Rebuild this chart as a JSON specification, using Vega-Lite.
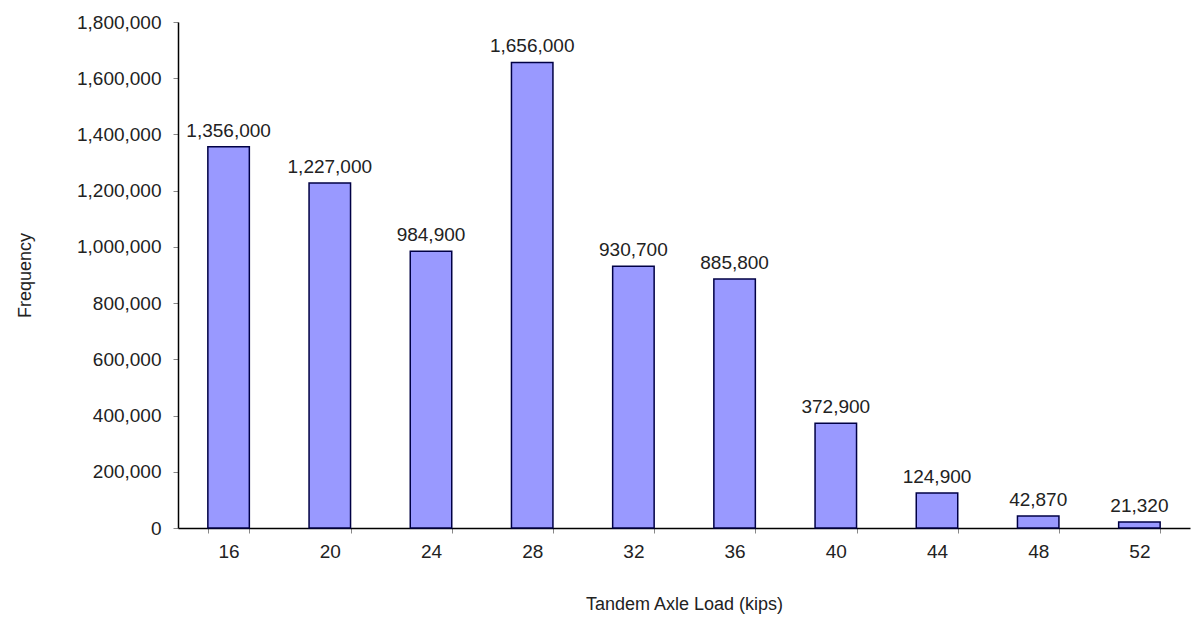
{
  "$schema": "https://vega.github.io/schema/vega-lite/v6.json",
  "width": 1012,
  "height": 506,
  "autosize": {"type": "none"},
  "padding": {"left": 178, "top": 22, "right": 5, "bottom": 93},
  "background": "white",
  "config": {"view": {"stroke": null}, "font": "Liberation Sans"},
  "data": {"values": [
    {"load": "16", "freq": 1356000},
    {"load": "20", "freq": 1227000},
    {"load": "24", "freq": 984900},
    {"load": "28", "freq": 1656000},
    {"load": "32", "freq": 930700},
    {"load": "36", "freq": 885800},
    {"load": "40", "freq": 372900},
    {"load": "44", "freq": 124900},
    {"load": "48", "freq": 42870},
    {"load": "52", "freq": 21320}
  ]},
  "encoding": {
    "x": {"field": "load", "type": "ordinal", "sort": null,
      "scale": {"paddingInner": 0.59, "paddingOuter": 0.295},
      "axis": {"title": "Tandem Axle Load (kips)", "labelAngle": 0, "labelFontSize": 19, "labelColor": "#222", "labelPadding": 9,
        "tickBand": "extent", "tickColor": "#888", "tickSize": 5, "domainColor": "#000", "domainWidth": 1.5,
        "titleFontSize": 18, "titleFontWeight": "normal", "titleColor": "#222", "titlePadding": 34}},
    "y": {"field": "freq", "type": "quantitative",
      "scale": {"domain": [0, 1800000]},
      "axis": {"title": "Frequency", "values": [0,200000,400000,600000,800000,1000000,1200000,1400000,1600000,1800000],
        "format": ",.0f", "labelFontSize": 19, "labelColor": "#222", "labelPadding": 12, "grid": false,
        "tickColor": "#888", "tickSize": 5, "domainColor": "#000", "domainWidth": 1.5,
        "titleFontSize": 18, "titleFontWeight": "normal", "titleColor": "#222", "titlePadding": 42}},
    "y2": {"datum": 0}
  },
  "layer": [
    {"mark": {"type": "bar", "fill": "#9999FF", "stroke": "#000044", "strokeWidth": 1.5}},
    {"mark": {"type": "text", "dy": -16, "fontSize": 19, "color": "#222"},
     "encoding": {"text": {"field": "freq", "type": "quantitative", "format": ",.0f"}, "y2": null}}
  ]
}
